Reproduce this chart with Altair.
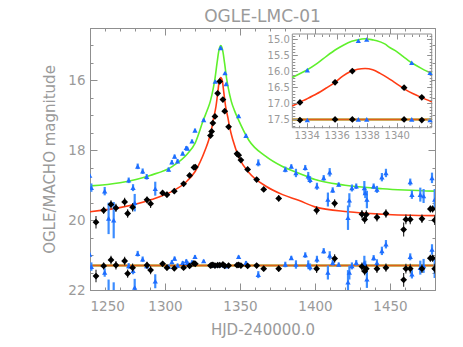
import altair as alt
import pandas as pd

# ---------------- data ----------------
chart_title = "OGLE-LMC-01"

black_t = [1254.0, 1259.1, 1264.0, 1267.3, 1273.1, 1275.1, 1278.4, 1288.0, 1290.4, 1298.4,
           1301.3, 1306.2, 1312.4, 1316.4, 1319.3, 1320.2, 1330.3, 1331.1, 1331.9, 1333.3,
           1335.1, 1336.5, 1338.6, 1339.8, 1342.4, 1348.0, 1349.1, 1350.6, 1355.1, 1361.1,
           1365.8, 1375.8, 1401.1, 1413.1, 1431.3, 1433.1, 1434.2, 1441.3, 1447.3, 1459.1,
           1460.6, 1463.5, 1471.3, 1476.9, 1478.4, 1479.8]
black_mag = [20.06, 19.72, 19.55, 19.65, 19.48, 19.81, 19.63, 19.42, 19.53, 19.22,
             19.27, 19.17, 18.96, 18.72, 18.49, 18.48, 17.58, 17.46, 17.22, 17.03,
             16.37, 16.03, 16.55, 16.88, 17.33, 18.10, 18.14, 18.28, 18.55, 18.84,
             19.12, 19.38, 19.72, 19.52, 19.83, 19.98, 19.84, 19.92, 19.81, 20.27,
             19.98, 19.98, 19.96, 19.68, 19.68, 20.00]
black_err = [0.18, 0.10, 0.12, 0.12, 0.12, 0.12, 0.12, 0.10, 0.12, 0.08,
             0.08, 0.07, 0.06, 0.06, 0.05, 0.05, 0.04, 0.04, 0.04, 0.03,
             0.03, 0.03, 0.03, 0.03, 0.04, 0.04, 0.04, 0.05, 0.05, 0.06,
             0.07, 0.09, 0.12, 0.12, 0.12, 0.12, 0.12, 0.12, 0.12, 0.20,
             0.14, 0.14, 0.12, 0.10, 0.10, 0.14]
black_res = [21.60, 21.31, 21.14, 21.29, 21.17, 21.53, 21.36, 21.29, 21.43, 21.25,
             21.36, 21.38, 21.36, 21.31, 21.24, 21.25, 21.30, 21.29, 21.28, 21.30,
             21.29, 21.29, 21.27, 21.31, 21.30, 21.29, 21.28, 21.30, 21.31, 21.30,
             21.39, 21.39, 21.39, 21.10, 21.33, 21.46, 21.39, 21.39, 21.36, 21.71,
             21.39, 21.39, 21.39, 21.09, 21.09, 21.39]

blue_t = [1249.8, 1250.9, 1259.8, 1262.4, 1265.8, 1275.8, 1278.7, 1279.8, 1281.8, 1285.1,
          1287.8, 1293.5, 1302.4, 1304.6, 1306.4, 1308.4, 1311.8, 1314.2, 1314.9, 1318.0,
          1320.0, 1325.8, 1333.5, 1337.1, 1340.0, 1340.8, 1349.1, 1354.0, 1362.2, 1380.2,
          1384.2, 1387.3, 1393.5, 1395.5, 1396.7, 1401.3, 1405.8, 1408.6, 1409.8, 1411.8,
          1415.8, 1422.0, 1422.9, 1424.6, 1427.5, 1432.9, 1433.5, 1434.6, 1439.1, 1441.3,
          1444.6, 1447.3, 1463.5, 1464.6, 1470.2, 1472.4, 1478.0, 1479.8]
blue_mag = [18.72, 19.07, 19.17, 19.95, 20.00, 18.86, 19.07, 19.50, 18.46, 18.60,
            18.76, 19.10, 18.55, 18.34, 18.18, 18.31, 18.09, 17.93, 17.95, 17.74,
            17.43, 17.13, 16.03, 15.07, 15.79, 16.10, 17.02, 17.58, 18.36, 18.55,
            18.46, 18.65, 18.50, 18.74, 18.84, 19.03, 18.79, 19.41, 18.63, 19.14,
            18.98, 19.93, 19.43, 19.08, 19.03, 19.08, 19.22, 19.41, 19.03, 19.12,
            18.77, 18.65, 18.91, 19.27, 19.27, 19.31, 18.79, 19.41]
blue_err = [0.05, 0.12, 0.12, 0.45, 0.52, 0.08, 0.10, 0.25, 0.08, 0.08,
            0.08, 0.20, 0.06, 0.06, 0.06, 0.06, 0.05, 0.05, 0.05, 0.05,
            0.05, 0.04, 0.03, 0.03, 0.03, 0.03, 0.04, 0.05, 0.10, 0.08,
            0.06, 0.12, 0.08, 0.12, 0.10, 0.10, 0.08, 0.20, 0.12, 0.08,
            0.06, 0.35, 0.20, 0.10, 0.08, 0.20, 0.15, 0.25, 0.08, 0.10,
            0.12, 0.12, 0.10, 0.12, 0.20, 0.20, 0.15, 0.30]
blue_res = [20.98, 21.33, 21.50, 22.15, 22.30, 21.31, 21.45, 21.93, 20.96, 21.12,
            21.31, 21.75, 21.33, 21.20, 21.10, 21.30, 21.22, 21.17, 21.22, 21.20,
            21.05, 21.17, 21.30, 21.28, 21.30, 21.32, 21.05, 21.22, 21.56, 21.27,
            21.08, 21.27, 21.00, 21.27, 21.34, 21.12, 20.88, 21.50, 21.01, 21.22,
            21.27, 21.78, 21.50, 21.31, 21.22, 21.22, 21.31, 21.69, 21.08, 21.22,
            20.88, 20.69, 21.05, 21.55, 21.36, 21.31, 20.84, 21.36]

# model curves
green_t = [1250, 1270, 1290, 1305, 1315, 1320, 1325.7, 1328.2, 1330.2, 1332.2, 1333.2, 1334.7,
           1335.7, 1336.5, 1337.2, 1337.9, 1338.7, 1339.7, 1341.2, 1342.2, 1344.2, 1346.2,
           1348.7, 1356, 1367, 1378, 1390, 1400, 1420, 1445, 1480]
green_mag = [19.02, 18.93, 18.72, 18.46, 18.10, 17.80, 17.12, 16.85, 16.60, 16.22, 15.98, 15.50,
             15.20, 15.05, 15.00, 15.05, 15.20, 15.50, 15.98, 16.22, 16.60, 16.85,
             17.10, 17.72, 18.17, 18.46, 18.67, 18.84, 19.00, 19.10, 19.17]
red_t = [1250, 1269, 1291, 1305, 1313.5, 1320.2, 1326.9, 1329.2, 1331.2, 1332.4, 1334.0, 1335.2,
         1336.2, 1337.2, 1338.2, 1339.2, 1340.4, 1342.0, 1343.2, 1345.2, 1349.5, 1356.2, 1367.3,
         1378.4, 1389.5, 1400, 1422, 1445, 1480]
red_mag = [19.76, 19.65, 19.41, 19.17, 18.93, 18.60, 17.98, 17.70, 17.36, 17.08, 16.74, 16.34,
           16.01, 15.92, 16.01, 16.34, 16.74, 17.08, 17.36, 17.70, 18.22, 18.65, 19.03,
           19.27, 19.44, 19.62, 19.76, 19.83, 19.87]
baseline_mag = 21.3

# inset data
inset_green_t = [1333.04, 1333.5, 1334.0, 1334.7, 1335.33, 1336.0, 1336.44, 1337.0, 1337.33, 1337.89,
                 1338.45, 1338.67, 1339.2, 1339.56, 1340.0, 1340.44, 1341.0, 1341.7, 1342.33]
inset_green_mag = [16.19, 16.08, 15.96, 15.75, 15.52, 15.30, 15.18, 15.06, 15.02, 14.98,
                   15.02, 15.04, 15.14, 15.26, 15.38, 15.54, 15.73, 15.92, 16.06]
inset_red_t = [1333.04, 1333.5, 1334.0, 1334.67, 1335.3, 1335.89, 1336.4, 1336.89, 1337.4, 1337.89,
               1338.4, 1338.89, 1339.4, 1339.78, 1340.2, 1340.55, 1341.1, 1341.67, 1342.33]
inset_red_mag = [17.08, 16.97, 16.86, 16.70, 16.52, 16.34, 16.15, 16.01, 15.93, 15.91,
                 15.95, 16.06, 16.20, 16.32, 16.45, 16.56, 16.70, 16.82, 16.95]
inset_blue_t = [1334.04, 1337.44, 1338.0, 1341.0, 1342.22]
inset_blue_mag = [15.96, 15.04, 15.00, 15.73, 16.04]
inset_blue_res = [17.52, 17.50, 17.50, 17.50, 17.52]
inset_black_t = [1333.55, 1335.89, 1337.04, 1340.49, 1341.67]
inset_black_mag = [16.97, 16.34, 15.99, 16.51, 16.81]
inset_black_res = [17.52, 17.50, 17.50, 17.50, 17.52]
inset_baseline_mag = 17.5

# axes / ticks
x_domain = [1250, 1480]
y_domain = [14.5, 22]
x_major = [1250, 1300, 1350, 1400, 1450]
x_minor = list(range(1250, 1481, 10))
y_major = [16, 18, 20, 22]
y_minor = [14.5 + 0.5 * i for i in range(16)]
inset_x_domain = [1333.04, 1342.33]
inset_y_domain = [14.83, 17.76]
inset_x_major = [1334, 1336, 1338, 1340]
inset_x_minor = [1333.5 + 0.5 * i for i in range(18)]
inset_y_major = [15.0, 15.5, 16.0, 16.5, 17.0, 17.5]
inset_y_minor = [14.9 + 0.1 * i for i in range(29)]

# ---------------- layout / style ----------------
W, H = 345, 262
INSET_X_RANGE = [202.3, 341.7]
INSET_Y_RANGE = [6.0, 99.7]
GREEN = "#5ff02c"
RED = "#ff3c14"
BLUE = "#1e6dff"
BLUE_ERR = "#3b8cff"
AXC = "#8f8f8f"
TXT = "#9a9a9a"
FONT = "DejaVu Sans"


def xs():
    return alt.Scale(domain=x_domain, nice=False, zero=False)


def ys():
    return alt.Scale(domain=y_domain, reverse=True, nice=False, zero=False)


def ixs():
    return alt.Scale(domain=inset_x_domain, range=INSET_X_RANGE, nice=False, zero=False)


def iys():
    return alt.Scale(domain=inset_y_domain, range=INSET_Y_RANGE, nice=False, zero=False)


def X(field, sc):
    return alt.X(field, type="quantitative", scale=sc, axis=None)


def Y(field, sc):
    return alt.Y(field, type="quantitative", scale=sc, axis=None)


black = pd.DataFrame({"t": black_t, "m": black_mag, "e": black_err, "r": black_res})
blue = pd.DataFrame({"t": blue_t, "m": blue_mag, "e": blue_err, "r": blue_res})
green = pd.DataFrame({"t": green_t, "m": green_mag})
red = pd.DataFrame({"t": red_t, "m": red_mag})
base = pd.DataFrame({"t": x_domain, "m": [baseline_mag, baseline_mag]})

layers = []
# model curves
layers.append(alt.Chart(green).mark_line(color=GREEN, strokeWidth=1.6, interpolate="monotone", clip=True)
              .encode(x=X("t", xs()), y=Y("m", ys())))
layers.append(alt.Chart(red).mark_line(color=RED, strokeWidth=1.6, interpolate="monotone", clip=True)
              .encode(x=X("t", xs()), y=Y("m", ys())))
layers.append(alt.Chart(base).mark_line(color=GREEN, strokeWidth=2.0, clip=True)
              .encode(x=X("t", xs()), y=Y("m", ys())))
layers.append(alt.Chart(base).mark_line(color=RED, strokeWidth=2.0, opacity=0.8, clip=True)
              .encode(x=X("t", xs()), y=Y("m", ys())))


def data_layers(df, ycol, errcolor, errwidth, shape, color, size):
    out = []
    out.append(alt.Chart(df).transform_calculate(lo=f"datum.{ycol} - datum.e", hi=f"datum.{ycol} + datum.e")
               .mark_rule(color=errcolor, strokeWidth=errwidth, clip=True)
               .encode(x=X("t", xs()), y=Y("lo", ys()), y2="hi:Q"))
    out.append(alt.Chart(df).mark_point(shape=shape, filled=True, color=color, size=size, opacity=1, clip=True)
               .encode(x=X("t", xs()), y=Y(ycol, ys())))
    return out


layers += data_layers(blue, "m", BLUE_ERR, 2.2, "triangle-up", BLUE, 28)
layers += data_layers(black, "m", "#222222", 1.1, "diamond", "black", 46)
layers += data_layers(blue, "r", BLUE_ERR, 2.2, "triangle-up", BLUE, 28)
layers += data_layers(black, "r", "#222222", 1.1, "diamond", "black", 46)

# ---------------- inset ----------------
inset_box = pd.DataFrame({"x1": [inset_x_domain[0]], "x2": [inset_x_domain[1]],
                          "y1": [inset_y_domain[0]], "y2": [inset_y_domain[1]]})
layers.append(alt.Chart(inset_box).mark_rect(fill="white", stroke=AXC, strokeWidth=1)
              .encode(x=X("x1", ixs()), x2="x2:Q", y=Y("y1", iys()), y2="y2:Q"))
ig = pd.DataFrame({"t": inset_green_t, "m": inset_green_mag})
ir = pd.DataFrame({"t": inset_red_t, "m": inset_red_mag})
ib = pd.DataFrame({"t": inset_x_domain, "m": [inset_baseline_mag, inset_baseline_mag]})
layers.append(alt.Chart(ig).mark_line(color=GREEN, strokeWidth=1.6, interpolate="monotone")
              .encode(x=X("t", ixs()), y=Y("m", iys())))
layers.append(alt.Chart(ir).mark_line(color=RED, strokeWidth=1.6, interpolate="monotone")
              .encode(x=X("t", ixs()), y=Y("m", iys())))
layers.append(alt.Chart(ib).mark_line(color=GREEN, strokeWidth=2.0)
              .encode(x=X("t", ixs()), y=Y("m", iys())))
layers.append(alt.Chart(ib).mark_line(color=RED, strokeWidth=2.0, opacity=0.8)
              .encode(x=X("t", ixs()), y=Y("m", iys())))
iblue = pd.DataFrame({"t": inset_blue_t, "m": inset_blue_mag, "r": inset_blue_res})
iblack = pd.DataFrame({"t": inset_black_t, "m": inset_black_mag, "r": inset_black_res})
for col in ["m", "r"]:
    layers.append(alt.Chart(iblue).mark_point(shape="triangle-up", filled=True, color=BLUE, size=28, opacity=1)
                  .encode(x=X("t", ixs()), y=Y(col, iys())))
    layers.append(alt.Chart(iblack).mark_point(shape="diamond", filled=True, color="black", size=46, opacity=1)
                  .encode(x=X("t", ixs()), y=Y(col, iys())))

# title as a text mark centred over the plot
layers.append(alt.Chart(pd.DataFrame({"title": [chart_title]}))
              .mark_text(font=FONT, fontSize=17, color=TXT, align="center", baseline="top")
              .encode(text="title:N", x=alt.value(W / 2), y=alt.value(-19.5)))


# ---------------- axes (inward ticks) ----------------
def axis_layer(channel, values, sc, orient, tick, offset, labels=False, title=None, zindex=0, **kw):
    df = pd.DataFrame({"v": values})
    ax = alt.Axis(orient=orient, values=values, tickSize=tick, offset=offset, labels=labels,
                  domain=False, grid=False, tickColor=AXC, tickWidth=1, title=title,
                  labelColor=TXT, labelFont=FONT, titleColor=TXT, titleFont=FONT,
                  titleFontWeight="normal", labelOverlap=False, zindex=zindex, **kw)
    enc = alt.X("v", type="quantitative", scale=sc, axis=ax) if channel == "x" else \
        alt.Y("v", type="quantitative", scale=sc, axis=ax)
    ch = alt.Chart(df).mark_point(opacity=0)
    return ch.encode(x=enc) if channel == "x" else ch.encode(y=enc)


MJ, MN = 7, 3
layers.append(axis_layer("x", x_major, xs(), "bottom", MJ, -MJ, labels=True, title="HJD-240000.0",
                         format="d", labelFontSize=13.5, labelPadding=9, titleFontSize=15, titlePadding=10))
layers.append(axis_layer("x", x_minor, xs(), "bottom", MN, -MN))
layers.append(axis_layer("x", x_major, xs(), "top", MJ, -MJ))
layers.append(axis_layer("x", x_minor, xs(), "top", MN, -MN))
layers.append(axis_layer("y", y_major, ys(), "left", MJ, -MJ, labels=True, title="OGLE/MACHO magnitude",
                         format="d", labelFontSize=13.5, labelPadding=5, titleFontSize=15, titlePadding=10))
layers.append(axis_layer("y", y_minor, ys(), "left", MN, -MN))
layers.append(axis_layer("y", y_major, ys(), "right", MJ, -MJ))
layers.append(axis_layer("y", y_minor, ys(), "right", MN, -MN))

IMJ, IMN = 5, 2.5
ix0, ix1 = INSET_X_RANGE
iy0, iy1 = INSET_Y_RANGE
layers.append(axis_layer("y", inset_y_major, iys(), "left", IMJ, -(ix0 + IMJ), labels=True, zindex=1,
                         format=".1f", labelFontSize=10, labelPadding=3))
layers.append(axis_layer("y", inset_y_minor, iys(), "left", IMN, -(ix0 + IMN), zindex=1))
layers.append(axis_layer("y", inset_y_major, iys(), "right", IMJ, (ix1 - IMJ) - W, zindex=1))
layers.append(axis_layer("y", inset_y_minor, iys(), "right", IMN, (ix1 - IMN) - W, zindex=1))
layers.append(axis_layer("x", inset_x_major, ixs(), "bottom", IMJ, (iy1 - IMJ) - H, labels=True, zindex=1,
                         format="d", labelFontSize=10, labelPadding=3))
layers.append(axis_layer("x", inset_x_minor, ixs(), "bottom", IMN, (iy1 - IMN) - H, zindex=1))
layers.append(axis_layer("x", inset_x_major, ixs(), "top", IMJ, -(iy0 + IMJ), zindex=1))
layers.append(axis_layer("x", inset_x_minor, ixs(), "top", IMN, -(iy0 + IMN), zindex=1))

chart = (
    alt.layer(*layers)
    .resolve_scale(x="independent", y="independent")
    .resolve_axis(x="independent", y="independent")
    .properties(
        width=W, height=H,
        autosize=alt.AutoSizeParams(type="none"),
        padding={"left": 82, "top": 20, "right": 20, "bottom": 57},
    )
    .configure_view(stroke=AXC, strokeWidth=1)
)

chart.save("out.html", embed_options={"renderer": "svg", "actions": False})
